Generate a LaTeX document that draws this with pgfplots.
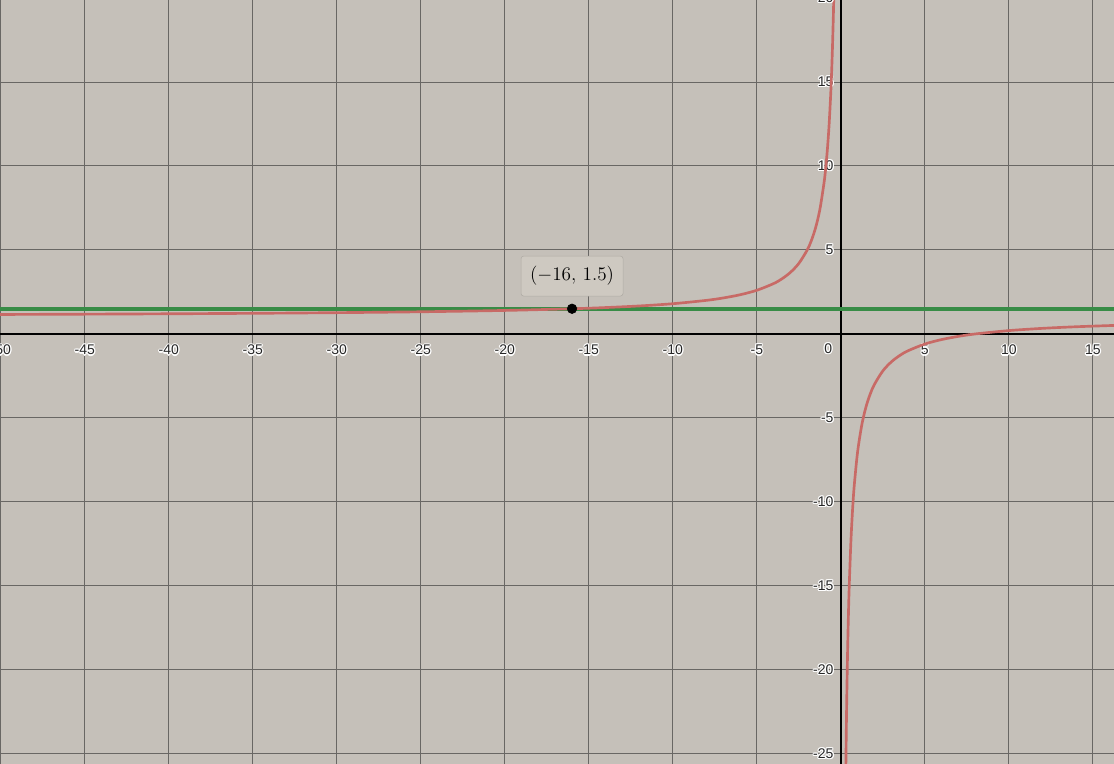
\documentclass[border=0pt]{standalone}
\usepackage{pgfplots}
\pgfplotsset{compat=1.18}
\usepackage{fontspec}
\setmainfont{Liberation Sans}
% white halo round the tick labels, Desmos style
\newcommand{\hc}[3]{\rlap{\kern#1\raisebox{#2}{\color{white}#3}}}
\newcommand{\halo}[1]{\hc{-.9pt}{0pt}{#1}\hc{.9pt}{0pt}{#1}\hc{0pt}{.9pt}{#1}\hc{0pt}{-.9pt}{#1}%
  \hc{-.65pt}{.65pt}{#1}\hc{.65pt}{.65pt}{#1}\hc{-.65pt}{-.65pt}{#1}\hc{.65pt}{-.65pt}{#1}#1}
\definecolor{bgc}{RGB}{197,192,185}
\definecolor{gridc}{RGB}{105,103,100}
\definecolor{curvec}{RGB}{200,106,102}
\definecolor{linec}{RGB}{56,140,70}
\definecolor{tipc}{RGB}{206,201,193}

\begin{document}
\begin{tikzpicture}
\begin{axis}[
    width=835.5pt, height=573pt,
    scale only axis,
    xmin=-50.05, xmax=16.26,
    ymin=-25.6, ymax=19.88,
    axis lines=middle,
    axis line style={-, black, line width=1.1pt},
    axis background/.style={fill=bgc},
    grid=major,
    major grid style={gridc, line width=0.7pt},
    xtick={-50,-45,...,15},
    ytick={-25,-20,...,20},
    major tick length=0pt,
    ticklabel style={font=\fontsize{10.5}{12}\selectfont, text=black!85},
    /pgf/number format/assume math mode=true,
    xticklabel={\halo{\pgfmathprintnumber{\tick}}},
    yticklabel={\halo{\pgfmathprintnumber{\tick}}},
    xticklabel style={anchor=north, yshift=-4pt},
    yticklabel style={anchor=east, xshift=-2pt},
    clip=true,
]
% green horizontal line y = 1.5
\addplot[linec, line width=2.8pt] coordinates {(-51,1.5) (17,1.5)};

% red curve, left branch
\addplot[curvec, line width=2pt, smooth] coordinates {
(-50.1,1.1597) (-45,1.1778) (-40,1.2) (-35,1.2286) (-30,1.2667) (-25,1.32)
(-20,1.4) (-16,1.5) (-14,1.5714) (-12,1.6667) (-10,1.8) (-8,2) (-7,2.1429)
(-6,2.3333) (-5,2.6) (-4,3) (-3.5,3.2857) (-3,3.6667) (-2.5,4.2) (-2,5)
(-1.75,5.5714) (-1.5,6.3333) (-1.25,7.4) (-1,9) (-0.9,9.8889) (-0.8,11)
(-0.7,12.4286) (-0.6,14.3333) (-0.55,15.5455) (-0.5,17) (-0.45,18.7778)
(-0.42,20.0476)
};

% red curve, right branch
\addplot[curvec, line width=2pt, smooth] coordinates {
(0.3,-25.6667) (0.32,-24) (0.35,-21.8571) (0.4,-19) (0.45,-16.7778)
(0.5,-15) (0.6,-12.3333) (0.7,-10.4286) (0.8,-9) (1,-7) (1.25,-5.4)
(1.5,-4.3333) (1.75,-3.5714) (2,-3) (2.5,-2.2) (3,-1.6667) (3.5,-1.2857)
(4,-1) (5,-0.6) (6,-0.3333) (7,-0.1429) (8,0) (10,0.2) (12,0.3333)
(14,0.4286) (16.5,0.5152)
};

% marked point
\addplot[only marks, mark=*, mark size=3.6pt, black] coordinates {(-16,1.5)};

\node[fill=tipc, draw=tipc!85!black, rounded corners=2pt,
      minimum width=76.5pt, minimum height=30pt, font=\fontsize{13.5}{15}\selectfont]
  at (axis cs:-16,1.5) [yshift=24.5pt] {$\left(-16,\, 1.5\right)$};

\node[font=\fontsize{10.5}{12}\selectfont, text=black!85, anchor=north east]
  at (axis cs:0,0) [xshift=-3pt, yshift=-3pt] {\halo{0}};
\node[font=\fontsize{10.5}{12}\selectfont, text=black!85, anchor=east]
  at (axis cs:0,20) [xshift=-2pt] {\halo{20}};
\end{axis}
\pgfresetboundingbox
\useasboundingbox (current axis.south west) rectangle (current axis.north east);
\end{tikzpicture}
\end{document}
